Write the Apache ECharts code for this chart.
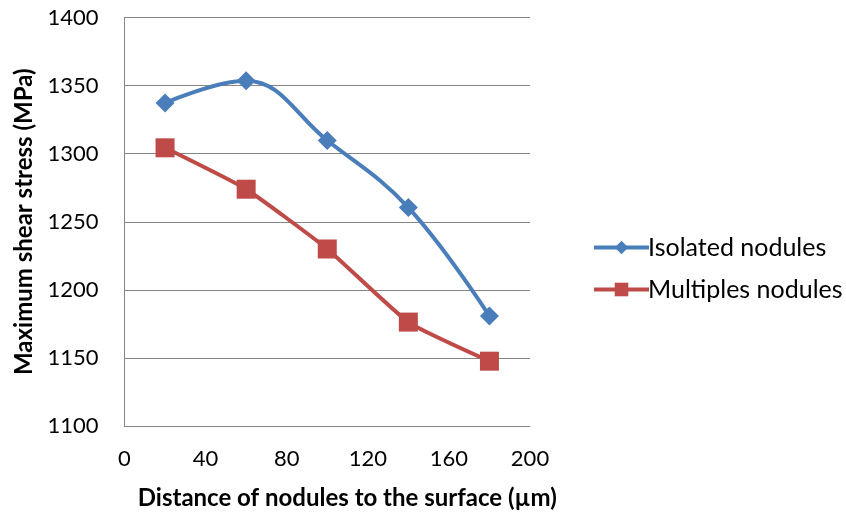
<!DOCTYPE html>
<html>
<head>
<meta charset="utf-8">
<script src="https://cdn.jsdelivr.net/npm/echarts@6/dist/echarts.min.js"></script>
<style>
html,body{margin:0;padding:0;background:#fff;}
#chart{width:846px;height:515px;}
</style>
</head>
<body>
<div id="chart"></div>
<script>
const distances = [20, 60, 100, 140, 180];
const isolatedNodules = [1337.3, 1353.6, 1309.7, 1260.4, 1180.7];
const multiplesNodules = [1304.3, 1273.9, 1230.0, 1176.3, 1147.6];
const seriesNames = ['Isolated nodules', 'Multiples nodules'];
const xTitle = 'Distance of nodules to the surface (µm)';
const yTitle = 'Maximum shear stress (MPa)';

const FONT = 'Lato';
const chart = echarts.init(document.getElementById('chart'), null, {renderer: 'canvas'});
const pairs = (xs, ys) => xs.map((x, i) => [x, ys[i]]);

chart.setOption({
  animation: false,
  backgroundColor: '#ffffff',
  textStyle: {fontFamily: FONT},
  grid: {left: 124.5, right: 316, top: 17.5, bottom: 87, containLabel: false},
  legend: {
    orient: 'vertical',
    left: 587,
    top: 230,
    itemWidth: 55,
    itemHeight: 17,
    itemGap: 17,
    lineStyle: {width: 4},
    textStyle: {fontFamily: FONT, fontSize: 25, color: '#000', padding: [0, 0, 0, -6]},
    data: seriesNames
  },
  xAxis: {
    type: 'value',
    min: 0, max: 200, interval: 40,
    axisLine: {show: true, lineStyle: {color: '#868686', width: 1}},
    axisTick: {show: false},
    splitLine: {show: false},
    axisLabel: {fontFamily: FONT, fontSize: 22, color: '#000', margin: 22},
    name: xTitle,
    nameLocation: 'middle',
    nameGap: 60,
    nameTextStyle: {fontFamily: FONT, fontSize: 24, fontWeight: 'bold', color: '#000', padding: [0, 0, 0, 40]}
  },
  yAxis: {
    type: 'value',
    min: 1100, max: 1400, interval: 50,
    axisLine: {show: true, lineStyle: {color: '#868686', width: 1}},
    axisTick: {show: false},
    splitLine: {show: true, lineStyle: {color: '#868686', width: 1}},
    axisLabel: {fontFamily: FONT, fontSize: 22, color: '#000', margin: 26, formatter: v => String(v)},
    name: yTitle,
    nameLocation: 'middle',
    nameGap: 88,
    nameRotate: 90,
    nameTextStyle: {fontFamily: FONT, fontSize: 24, fontWeight: 'bold', color: '#000'}
  },
  series: [
    {
      name: seriesNames[0],
      type: 'line',
      data: pairs(distances, isolatedNodules),
      smooth: 0.4,
      symbol: 'diamond',
      symbolSize: 19,
      lineStyle: {color: '#4A7EBB', width: 4},
      itemStyle: {color: '#4A7EBB'}
    },
    {
      name: seriesNames[1],
      type: 'line',
      data: pairs(distances, multiplesNodules),
      smooth: 0.15,
      symbol: 'rect',
      symbolSize: 19,
      lineStyle: {color: '#BE4B48', width: 4},
      itemStyle: {color: '#BE4B48'}
    }
  ]
});
</script>
</body>
</html>
